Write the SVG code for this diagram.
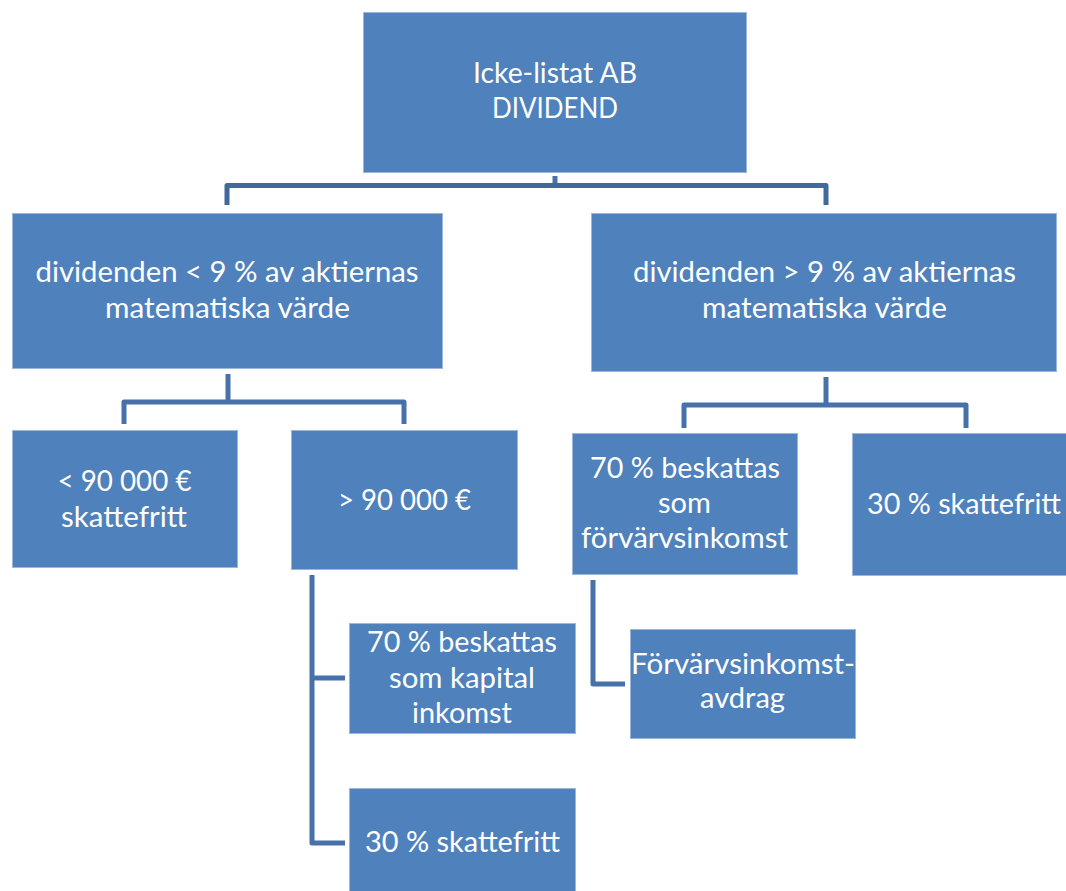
<svg xmlns="http://www.w3.org/2000/svg" width="1066" height="891" viewBox="0 0 1066 891">
<style>
.box{fill:#4F81BD;stroke:#9DB6DB;stroke-width:1}
.t{font-family:Lato,"Open Sans","Liberation Sans",sans-serif;font-size:28.5px;fill:#FFFFFF;text-anchor:middle}
.c{fill:none;stroke:#4672A9;stroke-width:5;stroke-linejoin:round}
</style>
<rect width="1066" height="891" fill="#FFFFFF"/>
<g id="connectors">
<path class="c" d="M555 176 V185.5"/>
<path class="c" d="M227 205 V185.5 H826 V205" style="stroke:#41699D"/>
<path class="c" d="M228 374 V402"/>
<path class="c" d="M124 424 V402 H404 V424"/>
<path class="c" d="M826 377 V405"/>
<path class="c" d="M684 428 V405 H966 V428"/>
<path class="c" d="M312 575 V843 H345"/>
<path class="c" d="M312 678 H345"/>
<path class="c" d="M593 580 V684 H625"/>
</g>
<g id="n-top">
<rect class="box" x="363.5" y="12.5" width="383" height="160"/>
<text class="t"><tspan x="555" y="83" textLength="164" lengthAdjust="spacingAndGlyphs">Icke-listat AB</tspan><tspan x="555" y="118" textLength="126" lengthAdjust="spacingAndGlyphs">DIVIDEND</tspan></text>
</g>
<g id="n-less9">
<rect class="box" x="12.5" y="213.5" width="430" height="155"/>
<text class="t"><tspan x="227" y="282" textLength="383" lengthAdjust="spacingAndGlyphs">dividenden &lt; 9 % av aktiernas</tspan><tspan x="227.5" y="318" textLength="245" lengthAdjust="spacingAndGlyphs">matematiska värde</tspan></text>
</g>
<g id="n-more9">
<rect class="box" x="591.5" y="213.5" width="465" height="158"/>
<text class="t"><tspan x="824.5" y="282" textLength="383" lengthAdjust="spacingAndGlyphs">dividenden &gt; 9 % av aktiernas</tspan><tspan x="824.5" y="318" textLength="245" lengthAdjust="spacingAndGlyphs">matematiska värde</tspan></text>
</g>
<g id="n-under90">
<rect class="box" x="12.5" y="430.5" width="225" height="137"/>
<text class="t"><tspan x="124.5" y="491" textLength="134" lengthAdjust="spacingAndGlyphs">&lt; 90 000 €</tspan><tspan x="124" y="527" textLength="126" lengthAdjust="spacingAndGlyphs">skattefritt</tspan></text>
</g>
<g id="n-over90">
<rect class="box" x="291.5" y="430.5" width="226" height="139"/>
<text class="t"><tspan x="404.5" y="510" textLength="133" lengthAdjust="spacingAndGlyphs">&gt; 90 000 €</tspan></text>
</g>
<g id="n-70forv">
<rect class="box" x="572.5" y="433.5" width="225" height="141"/>
<text class="t"><tspan x="685" y="478" textLength="190" lengthAdjust="spacingAndGlyphs">70 % beskattas</tspan><tspan x="684.5" y="513" textLength="53" lengthAdjust="spacingAndGlyphs">som</tspan><tspan x="684.5" y="548" textLength="207" lengthAdjust="spacingAndGlyphs">förvärvsinkomst</tspan></text>
</g>
<g id="n-30right">
<rect class="box" x="852.5" y="433.5" width="226" height="142"/>
<text class="t"><tspan x="964" y="514" textLength="194" lengthAdjust="spacingAndGlyphs">30 % skattefritt</tspan></text>
</g>
<g id="n-70kap">
<rect class="box" x="349.5" y="623.5" width="226" height="110"/>
<text class="t"><tspan x="462" y="652" textLength="190" lengthAdjust="spacingAndGlyphs">70 % beskattas</tspan><tspan x="462" y="688" textLength="146" lengthAdjust="spacingAndGlyphs">som kapital</tspan><tspan x="462" y="723" textLength="100" lengthAdjust="spacingAndGlyphs">inkomst</tspan></text>
</g>
<g id="n-30bottom">
<rect class="box" x="349.5" y="788.5" width="226" height="112"/>
<text class="t"><tspan x="462.5" y="852" textLength="195" lengthAdjust="spacingAndGlyphs">30 % skattefritt</tspan></text>
</g>
<g id="n-avdrag">
<rect class="box" x="630.5" y="629.5" width="225" height="109"/>
<text class="t"><tspan x="743" y="674" textLength="224" lengthAdjust="spacingAndGlyphs">Förvärvsinkomst-</tspan><tspan x="742.5" y="708" textLength="85" lengthAdjust="spacingAndGlyphs">avdrag</tspan></text>
</g>
</svg>
